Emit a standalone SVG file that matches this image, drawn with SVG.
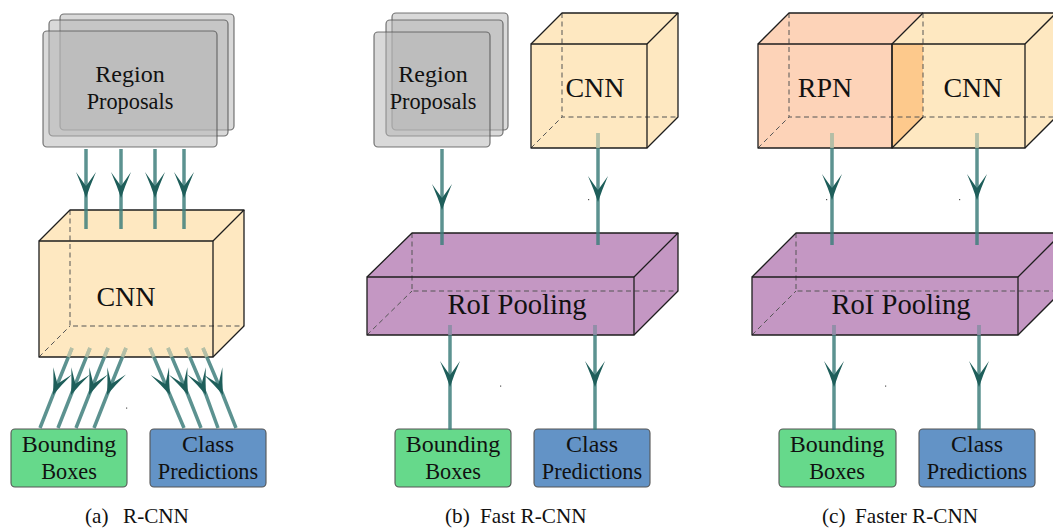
<svg xmlns="http://www.w3.org/2000/svg" width="1053" height="529" viewBox="0 0 1053 529">
  <style>
    text { font-family: "Liberation Serif", "DejaVu Serif", "Noto Serif", serif; fill: #111; text-anchor: middle; }
    .t1 { font-size: 24px; }
    .t2 { font-size: 22.3px; }
    .big { font-size: 28px; }
    .roi { font-size: 28.6px; }
    .cap { font-size: 21.2px; text-anchor: start; }
    .sheet { fill: #b4b4b4; fill-opacity: 0.5; stroke: #555; stroke-opacity: 0.8; stroke-width: 1.2; }
    .cnn { fill: #fee8c1; }
    .rpn { fill: #fdd3b8; }
    .rpnside { fill: #fdc98c; }
    .pool { fill: #c497c3; }
    .edge { fill: none; stroke: #1e1e1e; stroke-width: 1.3; stroke-linejoin: round; }
    .hidden { fill: none; stroke: #555; stroke-width: 1; stroke-dasharray: 5 3.5; }
    .bbox { fill: #66d98b; stroke: #555; stroke-width: 1.1; }
    .cls { fill: #6393c6; stroke: #555; stroke-width: 1.1; }
    .wire { fill: none; stroke: #3f7f7c; stroke-opacity: 0.85; stroke-width: 3.5; marker-mid: url(#head); }
    .tintc { stroke: #fee8c1; stroke-opacity: 0.55; stroke-width: 3.6; fill: none; }
    .tintp { stroke: #c497c3; stroke-opacity: 0.55; stroke-width: 3.6; fill: none; }
    .speck { fill: #555; }
  </style>
  <defs>
    <marker id="head" markerUnits="userSpaceOnUse" viewBox="-30 -12 32 24" refX="0" refY="0" markerWidth="32" markerHeight="24" orient="auto" overflow="visible">
      <path d="M0,0 Q-12,-4 -26,-10 Q-16,-3 -12,0 Q-16,3 -26,10 Q-12,4 0,0 Z" fill="#1e5e5a"/>
    </marker>
  </defs>

  <rect width="1053" height="529" fill="#ffffff"/>

  <!-- (a) R-CNN -->
  <g id="a-proposals">
    <rect class="sheet" x="60" y="14" width="174" height="116" rx="4"/>
    <rect class="sheet" x="49" y="20" width="179" height="116" rx="4"/>
    <rect class="sheet" x="43" y="31" width="174" height="116" rx="4"/>
    <text class="t1" x="130" y="82">Region</text>
    <text class="t2" x="130" y="109">Proposals</text>
  </g>

  <g id="a-cnn">
    <polygon class="cnn" points="39,241 70,210 244,210 213,241"/>
    <polygon class="cnn" points="213,241 244,210 244,326 213,357"/>
    <rect class="cnn" x="39" y="241" width="174" height="116"/>
    <polyline class="hidden" points="70,210 70,326 244,326"/>
    <line class="hidden" x1="39" y1="357" x2="70" y2="326"/>
    <polyline class="edge" points="39,241 70,210 244,210 213,241"/>
    <polyline class="edge" points="244,210 244,326 213,357"/>
    <rect class="edge" x="39" y="241" width="174" height="116"/>
    <text class="big" x="126" y="306">CNN</text>
  </g>

  <g id="a-boxes">
    <rect class="bbox" x="11" y="429" width="116" height="58" rx="4"/>
    <text class="t1" x="69" y="452">Bounding</text>
    <text class="t2" x="69" y="479">Boxes</text>
  </g>

  <g id="a-classes">
    <rect class="cls" x="150" y="429" width="116" height="58" rx="4"/>
    <text class="t1" x="208" y="452">Class</text>
    <text class="t2" x="208" y="479">Predictions</text>
  </g>

  <!-- (b) Fast R-CNN -->
  <g id="b-proposals">
    <rect class="sheet" x="392" y="13" width="116" height="117" rx="4"/>
    <rect class="sheet" x="386" y="20" width="117" height="116" rx="4"/>
    <rect class="sheet" x="374" y="32" width="116" height="115" rx="4"/>
    <text class="t1" x="433" y="82">Region</text>
    <text class="t2" x="433" y="109">Proposals</text>
  </g>

  <g id="b-cnn">
    <polygon class="cnn" points="531,44 562,13 678,13 647,44"/>
    <polygon class="cnn" points="647,44 678,13 678,117 647,148"/>
    <rect class="cnn" x="531" y="44" width="116" height="104"/>
    <polyline class="hidden" points="562,13 562,117 678,117"/>
    <line class="hidden" x1="531" y1="148" x2="562" y2="117"/>
    <polyline class="edge" points="531,44 562,13 678,13 647,44"/>
    <polyline class="edge" points="678,13 678,117 647,148"/>
    <rect class="edge" x="531" y="44" width="116" height="104"/>
    <text class="big" x="595" y="97">CNN</text>
  </g>

  <g id="b-roi">
    <polygon class="pool" points="367,277 412,233 678,233 634,277"/>
    <polygon class="pool" points="634,277 678,233 678,291 634,335"/>
    <rect class="pool" x="367" y="277" width="267" height="58"/>
    <polyline class="hidden" points="412,233 412,291 678,291"/>
    <line class="hidden" x1="367" y1="335" x2="412" y2="291"/>
    <polyline class="edge" points="367,277 412,233 678,233 634,277"/>
    <polyline class="edge" points="678,233 678,291 634,335"/>
    <rect class="edge" x="367" y="277" width="267" height="58"/>
    <text class="roi" x="517" y="314">RoI Pooling</text>
  </g>

  <g id="b-boxes">
    <rect class="bbox" x="395" y="429" width="116" height="58" rx="4"/>
    <text class="t1" x="453" y="452">Bounding</text>
    <text class="t2" x="453" y="479">Boxes</text>
  </g>

  <g id="b-classes">
    <rect class="cls" x="534" y="429" width="116" height="58" rx="4"/>
    <text class="t1" x="592" y="452">Class</text>
    <text class="t2" x="592" y="479">Predictions</text>
  </g>

  <!-- (c) Faster R-CNN -->
  <g id="c-rpn">
    <polygon class="rpn" points="758,44 789,13 923,13 892,44"/>
    <rect class="rpn" x="758" y="44" width="134" height="104"/>
    <polygon class="rpnside" points="892,44 923,13 923,117 892,148"/>
    <polyline class="hidden" points="789,13 789,117 923,117"/>
    <line class="hidden" x1="758" y1="148" x2="789" y2="117"/>
    <polyline class="edge" points="758,44 789,13 923,13"/>
    <rect class="edge" x="758" y="44" width="134" height="104"/>
    <text class="big" x="825" y="97">RPN</text>
  </g>

  <g id="c-cnn">
    <polygon class="cnn" points="892,44 923,13 1056,13 1025,44"/>
    <polygon class="cnn" points="1025,44 1056,13 1056,117 1025,148"/>
    <!-- front face, minus the part where the RPN side shows through -->
    <polygon class="cnn" points="923,44 1025,44 1025,148 892,148 923,117"/>
    <polyline class="hidden" points="923,13 923,117 1056,117"/>
    <polyline class="edge" points="892,44 923,13 1056,13"/>
    <polyline class="edge" points="1056,117 1025,148"/>
    <line class="edge" x1="892" y1="148" x2="923" y2="117"/>
    <polyline class="edge" points="1025,44 1056,13"/>
    <rect class="edge" x="892" y="44" width="133" height="104"/>
    <text class="big" x="973" y="97">CNN</text>
  </g>

  <g id="c-roi">
    <polygon class="pool" points="752,277 796,233 1062,233 1018,277"/>
    <polygon class="pool" points="1018,277 1062,233 1062,291 1018,335"/>
    <rect class="pool" x="752" y="277" width="266" height="58"/>
    <polyline class="hidden" points="796,233 796,291 1062,291"/>
    <line class="hidden" x1="752" y1="335" x2="796" y2="291"/>
    <polyline class="edge" points="752,277 796,233 1062,233"/>
    <polyline class="edge" points="1062,291 1018,335"/>
    <line class="edge" x1="1018" y1="277" x2="1062" y2="233"/>
    <rect class="edge" x="752" y="277" width="266" height="58"/>
    <text class="roi" x="901" y="314">RoI Pooling</text>
  </g>

  <g id="c-boxes">
    <rect class="bbox" x="779" y="429" width="117" height="58" rx="4"/>
    <text class="t1" x="837" y="452">Bounding</text>
    <text class="t2" x="837" y="479">Boxes</text>
  </g>

  <g id="c-classes">
    <rect class="cls" x="919" y="429" width="116" height="58" rx="4"/>
    <text class="t1" x="977" y="452">Class</text>
    <text class="t2" x="977" y="479">Predictions</text>
  </g>

  <!-- connectors: each path has a middle vertex where the arrowhead sits -->
  <g id="connectors">
    <!-- (a) proposals into the CNN -->
    <path class="wire" d="M86,149 L86,198 L86,229"/>
    <path class="wire" d="M121,149 L121,198 L121,229"/>
    <path class="wire" d="M155,149 L155,198 L155,229"/>
    <path class="wire" d="M184,149 L184,198 L184,229"/>
    <!-- (a) CNN out to the box regressors -->
    <path class="wire" d="M72,348 L53,395 L40,428"/>
    <path class="wire" d="M90,348 L71,395 L58,428"/>
    <path class="wire" d="M108,348 L89,395 L76,428"/>
    <path class="wire" d="M126,348 L107,395 L94,428"/>
    <!-- (a) CNN out to the classifiers -->
    <path class="wire" d="M150,348 L170,395 L184,428"/>
    <path class="wire" d="M168,348 L188,395 L201,428"/>
    <path class="wire" d="M186,348 L206,395 L218,428"/>
    <path class="wire" d="M203,348 L223,395 L236,428"/>
    <line class="tintc" x1="72" y1="348" x2="68.3" y2="357"/>
    <line class="tintc" x1="90" y1="348" x2="86.3" y2="357"/>
    <line class="tintc" x1="108" y1="348" x2="104.3" y2="357"/>
    <line class="tintc" x1="126" y1="348" x2="122.3" y2="357"/>
    <line class="tintc" x1="150" y1="348" x2="153.8" y2="357"/>
    <line class="tintc" x1="168" y1="348" x2="171.8" y2="357"/>
    <line class="tintc" x1="186" y1="348" x2="189.8" y2="357"/>
    <line class="tintc" x1="203" y1="348" x2="206.8" y2="357"/>

    <!-- (b) -->
    <path class="wire" d="M442,149 L442,210 L442,245"/>
    <path class="wire" d="M598,133 L598,202 L598,245"/>
    <line class="tintc" x1="598" y1="133" x2="598" y2="148"/>
    <path class="wire" d="M450,325 L450,387 L450,430"/>
    <path class="wire" d="M595,325 L595,387 L595,430"/>
    <line class="tintp" x1="450" y1="325" x2="450" y2="335"/>
    <line class="tintp" x1="595" y1="325" x2="595" y2="335"/>

    <!-- (c) -->
    <path class="wire" d="M832,133 L832,200 L832,245"/>
    <path class="wire" d="M977,133 L977,200 L977,245"/>
    <line class="tintc" x1="832" y1="133" x2="832" y2="148"/>
    <line class="tintc" x1="977" y1="133" x2="977" y2="148"/>
    <path class="wire" d="M834,325 L834,387 L834,430"/>
    <path class="wire" d="M979,325 L979,387 L979,430"/>
    <line class="tintp" x1="834" y1="325" x2="834" y2="335"/>
    <line class="tintp" x1="979" y1="325" x2="979" y2="335"/>

    <!-- small stray marks -->
    <rect class="speck" x="126" y="407.5" width="1.2" height="1.2"/>
    <rect class="speck" x="500" y="385.5" width="1.2" height="1.2"/>
    <rect class="speck" x="588" y="199" width="1.2" height="1.2"/>
    <rect class="speck" x="826" y="199" width="1.2" height="1.2"/>
    <rect class="speck" x="959" y="199" width="1.2" height="1.2"/>
    <rect class="speck" x="885" y="385.5" width="1.2" height="1.2"/>
  </g>

  <!-- captions -->
  <g id="captions">
    <text class="cap" y="523"><tspan x="85">(a)</tspan><tspan x="123">R-CNN</tspan></text>
    <text class="cap" y="523"><tspan x="445">(b)</tspan><tspan x="480">Fast R-CNN</tspan></text>
    <text class="cap" y="523"><tspan x="822">(c)</tspan><tspan x="855">Faster R-CNN</tspan></text>
  </g>
</svg>
